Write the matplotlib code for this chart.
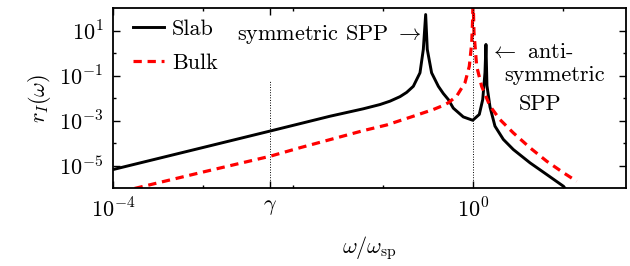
import numpy as np
import matplotlib
matplotlib.use("Agg")
from matplotlib import pyplot as plt

# values, as log10 of omega/omega_sp and log10 of r_I
slab_lw = [-4.0, -3.0, -2.256, -1.922, -1.589, -1.219, -1.033, -0.922, -0.811,
           -0.737, -0.663, -0.589, -0.552, -0.526, -0.508, -0.46, -0.385, -0.33,
           -0.274, -0.219, -0.108, -0.003, 0.07, 0.108, 0.133, 0.144, 0.155,
           0.189, 0.244, 0.337, 0.448, 0.633, 0.819, 1.004, 1.02]
slab_lr = [-5.18, -4.20, -3.47, -3.14, -2.81, -2.48, -2.29, -2.14, -1.94,
           -1.75, -1.48, -0.88, 0.16, 1.71, 0.16, -0.88, -1.48, -1.80,
           -2.07, -2.45, -2.84, -2.99, -2.73, -2.07, -0.88, 0.38, -1.45,
           -2.40, -3.25, -3.84, -4.29, -4.88, -5.40, -5.92, -6.0]

bulk_lw = [-3.76, -3.0, -2.256, -1.922, -1.589, -1.219, -0.96, -0.663, -0.44,
           -0.33, -0.274, -0.182, -0.089, -0.041, -0.014, -0.003, 0.0, 0.011,
           0.041, 0.096, 0.189, 0.3, 0.448, 0.633, 0.819, 1.004, 1.152]
bulk_lr = [-6.02, -5.29, -4.59, -4.21, -3.85, -3.45, -3.20, -2.81, -2.51,
           -2.33, -2.21, -1.92, -1.32, -0.59, 0.45, 1.64, 2.6, 0.9,
           -0.59, -1.48, -2.36, -2.96, -3.55, -4.21, -4.81, -5.32, -5.70]

gamma = 10 ** -2.256

plt.rcParams['font.family'] = 'cmr10'
plt.rcParams['mathtext.fontset'] = 'cm'
plt.rcParams['axes.unicode_minus'] = False
fs = 16

fig = plt.figure(figsize=(6.3, 2.66), dpi=100)
ax = fig.add_axes([113 / 630, 78 / 266, 513 / 630, 180 / 266])

ax.plot(10 ** np.array(slab_lw), 10 ** np.array(slab_lr), color='k', lw=2.1, label='Slab')
ax.plot(10 ** np.array(bulk_lw), 10 ** np.array(bulk_lr), color='#ff0000', lw=2.3,
        dashes=(2.6, 1.8), label='Bulk')

ax.plot([gamma, gamma], [1e-6, 10 ** -1.18], color='k', lw=0.7, ls=':')
ax.axvline(1.0, color='k', lw=0.7, ls=':')

ax.set_xscale('log')
ax.set_yscale('log')
ax.set_xlim(1e-4, 10 ** 1.7)
ax.set_ylim(1e-6, 1e2)

ax.set_xticks([1e-4, gamma, 1.0])
ax.set_xticklabels([r'$10^{-4}$', r'$\gamma$', r'$10^{0}$'])
ax.set_xticks([1e-3, 1e-2, 1e-1, 1e1], minor=True)
ax.set_xticklabels([], minor=True)
ax.set_yticks([1e1, 1e-1, 1e-3, 1e-5])
ax.set_yticklabels([r'$10^{1}$', r'$10^{-1}$', r'$10^{-3}$', r'$10^{-5}$'])
ax.set_yticks([1e0, 1e-2, 1e-4], minor=True)
ax.set_yticklabels([], minor=True)
ax.tick_params(which='both', direction='in', top=True, right=True, labelsize=fs, pad=7)
ax.tick_params(which='major', length=5, width=1)
ax.tick_params(which='minor', length=2.5, width=1)
for s in ax.spines.values():
    s.set_linewidth(1.3)

ax.set_xlabel(r'$\omega/\omega_{\rm sp}$', fontsize=fs, labelpad=9)
ax.set_ylabel(r'$r_I(\omega)$', fontsize=fs, labelpad=4)

ax.text(10 ** -0.567, 10 ** 0.82, r'symmetric SPP $\rightarrow$', fontsize=fs,
        ha='right', va='center')
ax.text(10 ** 0.189, 10 ** 0.02, r'$\leftarrow$ anti-', fontsize=fs, ha='left', va='center')
ax.text(10 ** 0.911, 10 ** -1.0, 'symmetric', fontsize=fs, ha='center', va='center')
ax.text(10 ** 0.744, 10 ** -2.29, 'SPP', fontsize=fs, ha='center', va='center')

ax.legend(loc='upper left', bbox_to_anchor=(0.039, 0.935), frameon=False, fontsize=fs,
          borderpad=0, borderaxespad=0, handlelength=1.4, handletextpad=0.35,
          labelspacing=0.62)

fig.savefig('out.png', dpi=100)
